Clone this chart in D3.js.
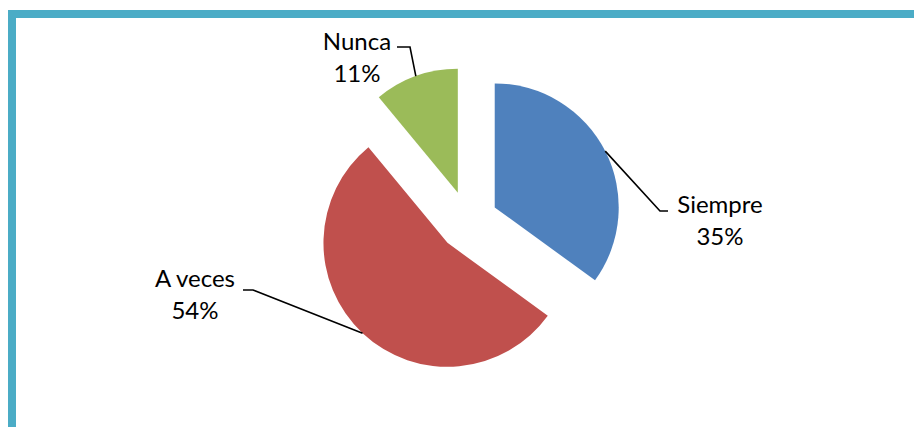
<!DOCTYPE html>
<html>
<head>
<meta charset="utf-8">
<script src="https://cdn.jsdelivr.net/npm/d3@7"></script>
<style>
  body { margin: 0; background: #fff; }
  svg { display: block; }
</style>
</head>
<body>
<div id="chart"></div>
<script>
// Data
const categories = ["Siempre", "A veces", "Nunca"];
const values = [35, 54, 11];
const colors = ["#4F81BD", "#C0504D", "#9BBB59"];

const width = 914, height = 427;
const cx = 468, cy = 221, radius = 124, explode = 30;

// label anchor (text centre) and leader elbow, per slice
const labelPos = [[720, 213], [195, 287], [357, 50]];
const elbows = [[[660, 211], [668, 211]], [[253, 290], [243, 290]], [[410, 47], [397, 47]]];

const svg = d3.select("#chart").append("svg")
    .attr("width", width)
    .attr("height", height);

// frame
svg.append("path")
    .attr("d", `M12,${height + 10} V14 H${width + 10}`)
    .attr("fill", "none")
    .attr("stroke", "#4BACC6")
    .attr("stroke-width", 8);

const pie = d3.pie().sort(null).value(d => d)(values);
const arc = d3.arc().innerRadius(0).outerRadius(radius);

const g = svg.append("g").attr("transform", `translate(${cx},${cy})`);

const slices = g.selectAll("g.slice")
    .data(pie)
    .join("g")
    .attr("class", "slice")
    .attr("transform", d => {
        const a = (d.startAngle + d.endAngle) / 2;
        return `translate(${Math.sin(a) * explode},${-Math.cos(a) * explode})`;
    });

slices.append("path")
    .attr("d", arc)
    .attr("fill", (d, i) => colors[i]);

// leader lines
slices.append("polyline")
    .attr("fill", "none")
    .attr("stroke", "#000")
    .attr("stroke-width", 1.6)
    .attr("points", (d, i) => {
        const a = (d.startAngle + d.endAngle) / 2;
        const ox = Math.sin(a) * explode, oy = -Math.cos(a) * explode;
        const start = [Math.sin(a) * radius, -Math.cos(a) * radius];
        const pts = elbows[i].map(p => [p[0] - cx - ox, p[1] - cy - oy]);
        return [start, ...pts].map(p => p.join(",")).join(" ");
    });

// labels
const labels = svg.append("g")
    .attr("font-family", "Lato, 'Open Sans', sans-serif")
    .attr("font-size", 24)
    .attr("fill", "#000")
    .attr("text-anchor", "middle");

labels.selectAll("text")
    .data(pie)
    .join("text")
    .attr("x", (d, i) => labelPos[i][0])
    .attr("y", (d, i) => labelPos[i][1])
    .call(t => t.append("tspan").text((d, i) => categories[i]))
    .call(t => t.append("tspan")
        .attr("x", (d, i) => labelPos[i][0])
        .attr("dy", 32)
        .text(d => Math.round(d.value) + "%"));
</script>
</body>
</html>
